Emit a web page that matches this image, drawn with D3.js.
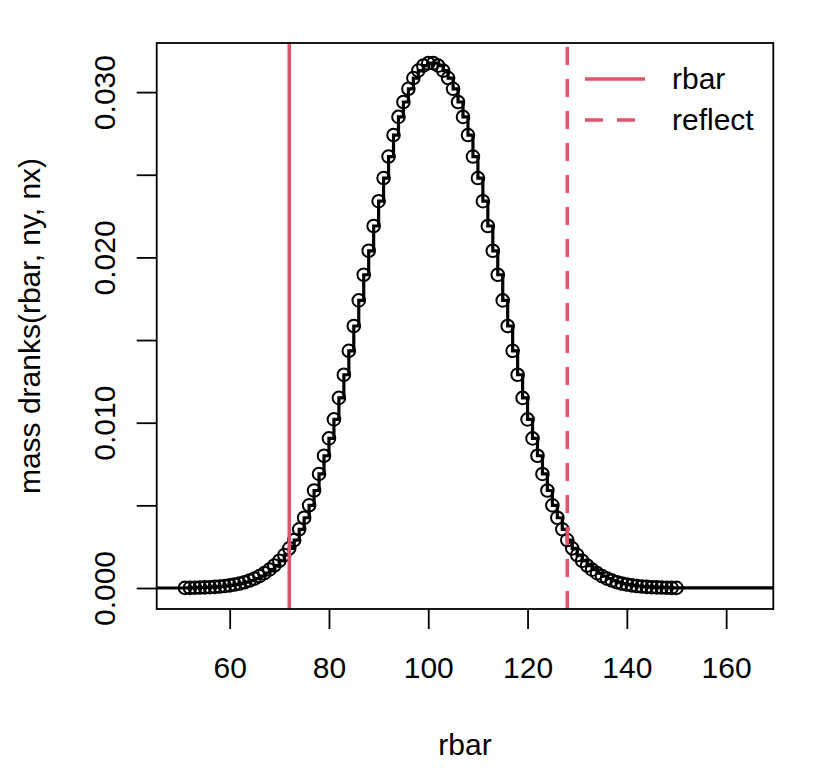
<!DOCTYPE html>
<html>
<head>
<meta charset="utf-8">
<script src="https://cdn.jsdelivr.net/npm/d3@7"></script>
<style>
  body { margin: 0; background: #fff; }
  svg text { font-family: "Liberation Sans", Arial, Helvetica, sans-serif; }
</style>
</head>
<body>
<div id="chart"></div>
<script>
// values
var rbarFirst = 51, rbarLast = 150;
var massLeft = [
  0.00001, 0.00001, 0.00002, 0.00003, 0.00004, 0.00005, 0.00007, 0.00009, 0.00012, 0.00016,
  0.00021, 0.00027, 0.00035, 0.00045, 0.00057, 0.00072, 0.00090, 0.00111, 0.00136, 0.00165,
  0.00199, 0.00240, 0.00290, 0.00355, 0.00425, 0.00500, 0.00590, 0.00690, 0.00800, 0.00905,
  0.01020, 0.01150, 0.01290, 0.01435, 0.01585, 0.01740, 0.01895, 0.02040, 0.02190, 0.02340,
  0.02480, 0.02610, 0.02740, 0.02850, 0.02940, 0.03020, 0.03085, 0.03130, 0.03160, 0.03175
];
var massRight = [
  0.03175, 0.03160, 0.03130, 0.03085, 0.03020, 0.02940, 0.02850, 0.02740, 0.02610, 0.02480,
  0.02340, 0.02190, 0.02040, 0.01895, 0.01740, 0.01585, 0.01435, 0.01290, 0.01150, 0.01020,
  0.00905, 0.00800, 0.00690, 0.00590, 0.00500, 0.00425, 0.00355, 0.00290, 0.00240, 0.00199,
  0.00165, 0.00136, 0.00111, 0.00090, 0.00072, 0.00057, 0.00045, 0.00035, 0.00027, 0.00021,
  0.00016, 0.00012, 0.00009, 0.00007, 0.00005, 0.00004, 0.00003, 0.00002, 0.00001, 0.00001
];
var rbarObs = 72;
var rbarReflect = 128;
var xTicks = [60, 80, 100, 120, 140, 160];
var yTicks = [0, 0.005, 0.010, 0.015, 0.020, 0.025, 0.030];
var yLabelled = [0, 0.010, 0.020, 0.030];
var legendLabels = ["rbar", "reflect"];

var svgWidth = 816, svgHeight = 768;
var plot = { left: 156.7, right: 773.3, top: 43, bottom: 609 };
var red = "#DF536B";
var fontSize = 30;
var dash = "18,14";

var svg = d3.select("#chart").append("svg")
  .attr("width", svgWidth)
  .attr("height", svgHeight);

var xScale = d3.scaleLinear().domain([45.3, 169.5]).range([plot.left, plot.right]);
var yScale = d3.scaleLinear().domain([-0.00127, 0.03297]).range([plot.bottom, plot.top]);

var rbarVals = d3.range(rbarFirst, rbarLast + 1);
var mass = massLeft.concat(massRight);
var pts = rbarVals.map(function(r, i) { return { x: r, y: mass[i] }; });

// clip to the plot region
svg.append("clipPath").attr("id", "clip")
  .append("rect")
  .attr("x", plot.left).attr("y", plot.top)
  .attr("width", plot.right - plot.left).attr("height", plot.bottom - plot.top);

var g = svg.append("g").attr("clip-path", "url(#clip)");

// step function line
var stepData = [{ x: xScale.domain()[0], y: 0 }]
  .concat(pts)
  .concat([{ x: xScale.domain()[1], y: mass[mass.length - 1] }]);

var stepLine = d3.line()
  .x(function(d) { return xScale(d.x); })
  .y(function(d) { return yScale(d.y); })
  .curve(d3.curveStepAfter);

g.append("path")
  .datum(stepData)
  .attr("d", stepLine)
  .attr("fill", "none")
  .attr("stroke", "#000")
  .attr("stroke-width", 3.2);

// points
g.selectAll("circle.pt")
  .data(pts)
  .enter()
  .append("circle")
  .attr("class", "pt")
  .attr("cx", function(d) { return xScale(d.x); })
  .attr("cy", function(d) { return yScale(d.y); })
  .attr("r", 6.3)
  .attr("fill", "none")
  .attr("stroke", "#000")
  .attr("stroke-width", 2);

// vertical reference lines
g.append("line")
  .attr("x1", xScale(rbarObs)).attr("x2", xScale(rbarObs))
  .attr("y1", plot.top).attr("y2", plot.bottom)
  .attr("stroke", red).attr("stroke-width", 3.5);

g.append("line")
  .attr("x1", xScale(rbarReflect)).attr("x2", xScale(rbarReflect))
  .attr("y1", plot.bottom).attr("y2", plot.top)
  .attr("stroke", red).attr("stroke-width", 3.5)
  .attr("stroke-dasharray", dash);

// axes
var xAxis = svg.append("g")
  .attr("transform", "translate(0," + plot.bottom + ")")
  .call(d3.axisBottom(xScale).tickValues(xTicks).tickSize(20).tickPadding(28).tickSizeOuter(0));

var yAxis = svg.append("g")
  .attr("transform", "translate(" + plot.left + ",0)")
  .call(d3.axisLeft(yScale).tickValues(yTicks).tickSize(20).tickSizeOuter(0)
    .tickFormat(function(d) {
      return yLabelled.some(function(v) { return Math.abs(v - d) < 1e-9; }) ? d3.format(".3f")(d) : "";
    }));

[xAxis, yAxis].forEach(function(ax) {
  ax.select(".domain").remove();
  ax.selectAll(".tick line").attr("stroke", "#000").attr("stroke-width", 1.8);
  ax.selectAll("text").attr("font-size", fontSize).attr("fill", "#000")
    .style("font-family", "'Liberation Sans', Arial, sans-serif");
});

// y labels parallel to the axis
yAxis.selectAll(".tick text")
  .attr("transform", "rotate(-90)")
  .attr("text-anchor", "middle")
  .attr("x", 0)
  .attr("y", -42)
  .attr("dy", 0);

// box
svg.append("rect")
  .attr("x", plot.left).attr("y", plot.top)
  .attr("width", plot.right - plot.left).attr("height", plot.bottom - plot.top)
  .attr("fill", "none").attr("stroke", "#000").attr("stroke-width", 1.8);

// axis titles
svg.append("text")
  .attr("x", (plot.left + plot.right) / 2)
  .attr("y", 755)
  .attr("text-anchor", "middle")
  .attr("font-size", fontSize)
  .text("rbar");

svg.append("text")
  .attr("transform", "translate(40," + (plot.top + plot.bottom) / 2 + ") rotate(-90)")
  .attr("text-anchor", "middle")
  .attr("font-size", fontSize)
  .text("mass dranks(rbar, ny, nx)");

// legend
var legend = svg.append("g");
legendLabels.forEach(function(lab, i) {
  var ly = 79 + i * 41;
  legend.append("line")
    .attr("x1", 585).attr("x2", 645)
    .attr("y1", ly).attr("y2", ly)
    .attr("stroke", red).attr("stroke-width", 3.5)
    .attr("stroke-dasharray", i === 1 ? dash : null);
  legend.append("text")
    .attr("x", 672).attr("y", ly + 10)
    .attr("font-size", fontSize)
    .text(lab);
});
</script>
</body>
</html>
